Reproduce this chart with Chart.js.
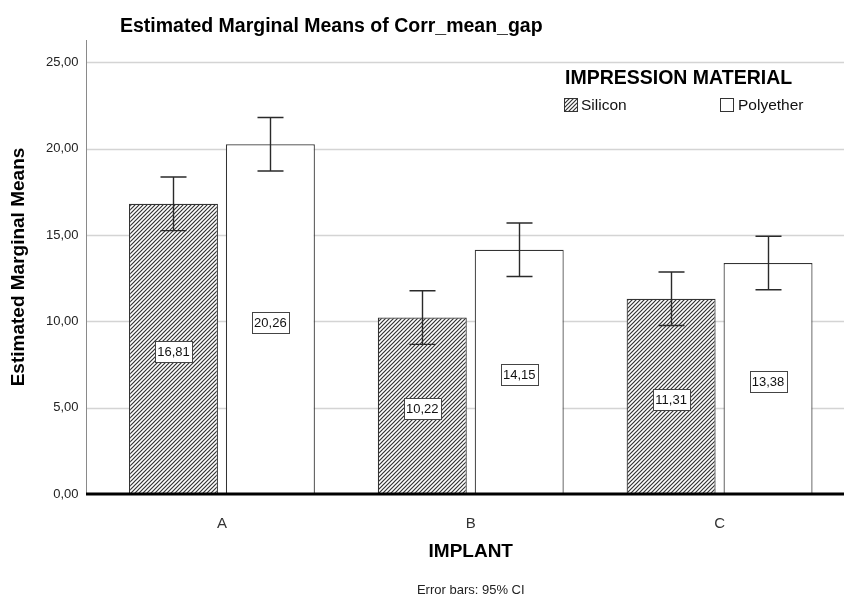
<!DOCTYPE html>
<html>
<head>
<meta charset="utf-8">
<script src="https://cdn.jsdelivr.net/npm/chart.js@4.4.1/dist/chart.umd.min.js"></script>
<style>
  html, body { margin: 0; padding: 0; background: #fff; }
  #wrap { width: 844px; height: 599px; position: relative; }
</style>
</head>
<body>
<div id="wrap"><canvas id="chart"></canvas></div>
<script>
// data
const categories = ['A', 'B', 'C'];
const silicon = [16.81, 10.22, 11.31];
const polyether = [20.26, 14.15, 13.38];
// 95% CI bounds
const siliconLow = [15.26, 8.67, 9.76];
const siliconHigh = [18.36, 11.77, 12.86];
const polyetherLow = [18.71, 12.60, 11.83];
const polyetherHigh = [21.81, 15.70, 14.93];
const yTicks = [0, 5, 10, 15, 20, 25];

const FONT = 'Liberation Sans, Arial, sans-serif';
const fmt = v => v.toFixed(2).replace('.', ',');

function hatch() {
    const c = document.createElement('canvas');
    c.width = 4; c.height = 4;
    const g = c.getContext('2d');
    g.fillStyle = '#fff';
    g.fillRect(0, 0, 4, 4);
    g.strokeStyle = '#333';
    g.lineWidth = 1.2;
    g.beginPath();
    g.moveTo(0, 4); g.lineTo(4, 0);
    g.moveTo(-1, 1); g.lineTo(1, -1);
    g.moveTo(3, 5); g.lineTo(5, 3);
    g.stroke();
    return g.createPattern(c, 'repeat');
}
const hatchFill = hatch();

const AXIS_X = 86;

const decor = {
    id: 'decor',
    beforeDatasetsDraw(chart) {
        const { ctx, chartArea } = chart;
        const y = chart.scales.y;
        ctx.save();
        ctx.strokeStyle = '#d4d4d4';
        ctx.lineWidth = 1.5;
        yTicks.forEach(v => {
            if (v === 0) return;
            const py = Math.round(y.getPixelForValue(v)) + 0.5;
            ctx.beginPath();
            ctx.moveTo(AXIS_X, py);
            ctx.lineTo(chartArea.right, py);
            ctx.stroke();
        });
        ctx.strokeStyle = '#8a8a8a';
        ctx.lineWidth = 1;
        ctx.beginPath();
        ctx.moveTo(AXIS_X + 0.5, chartArea.top);
        ctx.lineTo(AXIS_X + 0.5, chartArea.bottom);
        ctx.stroke();
        ctx.restore();
    },
    afterDatasetsDraw(chart) {
        const { ctx, chartArea } = chart;
        const y = chart.scales.y;
        const lows = [siliconLow, polyetherLow];
        const highs = [siliconHigh, polyetherHigh];
        const vals = [silicon, polyether];
        ctx.save();
        // value labels
        ctx.font = '13px ' + FONT;
        ctx.textAlign = 'center';
        ctx.textBaseline = 'middle';
        [0, 1].forEach(d => {
            chart.getDatasetMeta(d).data.forEach((bar, i) => {
                const cy = (bar.y + bar.base) / 2 + 3;
                const w = 37, h = 21;
                const x0 = Math.round(bar.x - w / 2) + 0.5;
                const y0 = Math.round(cy - h / 2) + 0.5;
                ctx.fillStyle = '#fff';
                ctx.fillRect(x0, y0, w, h);
                ctx.strokeStyle = '#444';
                ctx.lineWidth = 1;
                ctx.strokeRect(x0, y0, w, h);
                ctx.fillStyle = '#111';
                ctx.fillText(fmt(vals[d][i]), bar.x, cy + 1);
            });
        });
        // error bars
        ctx.strokeStyle = '#2a2a2a';
        ctx.lineWidth = 1.4;
        [0, 1].forEach(d => {
            chart.getDatasetMeta(d).data.forEach((bar, i) => {
                const x = Math.round(bar.x) + 0.5;
                const top = y.getPixelForValue(highs[d][i]);
                const bot = y.getPixelForValue(lows[d][i]);
                ctx.beginPath();
                ctx.moveTo(x, top); ctx.lineTo(x, bot);
                ctx.moveTo(x - 13, top); ctx.lineTo(x + 13, top);
                ctx.moveTo(x - 13, bot); ctx.lineTo(x + 13, bot);
                ctx.stroke();
            });
        });
        // zero line
        const z = y.getPixelForValue(0);
        ctx.strokeStyle = '#000';
        ctx.lineWidth = 3;
        ctx.beginPath();
        ctx.moveTo(AXIS_X, z);
        ctx.lineTo(chartArea.right, z);
        ctx.stroke();
        ctx.restore();
    },
    afterDraw(chart) {
        const { ctx, chartArea } = chart;
        ctx.save();
        ctx.fillStyle = '#000';
        ctx.textBaseline = 'alphabetic';
        ctx.textAlign = 'left';
        ctx.font = 'bold 19.5px ' + FONT;
        ctx.fillText('Estimated Marginal Means of Corr_mean_gap', 120, 32);
        // legend
        ctx.font = 'bold 19.5px ' + FONT;
        ctx.fillText('IMPRESSION MATERIAL', 565, 84);
        ctx.strokeStyle = '#333';
        ctx.lineWidth = 1;
        ctx.fillStyle = hatchFill;
        ctx.fillRect(564, 98, 14, 14);
        ctx.strokeRect(564.5, 98.5, 13, 13);
        ctx.fillStyle = '#fff';
        ctx.fillRect(720, 98, 14, 14);
        ctx.strokeRect(720.5, 98.5, 13, 13);
        ctx.fillStyle = '#111';
        ctx.font = '15.5px ' + FONT;
        ctx.textBaseline = 'middle';
        ctx.fillText('Silicon', 581, 106);
        ctx.fillText('Polyether', 738, 106);
        // footer
        ctx.textAlign = 'center';
        ctx.font = '13px ' + FONT;
        ctx.fillStyle = '#222';
        ctx.fillText('Error bars: 95% CI', (chartArea.left + chartArea.right) / 2, 590);
        ctx.restore();
    }
};

new Chart(document.getElementById('chart'), {
    type: 'bar',
    data: {
        labels: categories,
        datasets: [
            {
                label: 'Silicon',
                data: silicon,
                backgroundColor: hatchFill,
                borderColor: '#333',
                borderWidth: 1.2,
                categoryPercentage: 0.779,
                barPercentage: 0.918,
            },
            {
                label: 'Polyether',
                data: polyether,
                backgroundColor: '#fff',
                borderColor: '#333',
                borderWidth: 1.2,
                categoryPercentage: 0.779,
                barPercentage: 0.918,
            },
        ]
    },
    options: {
        responsive: true,
        maintainAspectRatio: false,
        animation: false,
        layout: { padding: { top: 40, left: 0, right: 0, bottom: 0 } },
        plugins: {
            legend: { display: false },
            tooltip: { enabled: false },
        },
        scales: {
            x: {
                grid: { display: false },
                border: { display: false },
                ticks: { color: '#333', font: { family: FONT, size: 15 }, padding: 13 },
                title: {
                    display: true,
                    text: 'IMPLANT',
                    color: '#000',
                    font: { family: FONT, size: 19, weight: 'bold' },
                    padding: { top: 0, bottom: 36 },
                },
                afterFit: s => { s.height = 105; },
            },
            y: {
                min: 0,
                max: 26.3,
                grid: { display: false },
                border: { display: false },
                afterBuildTicks: s => { s.ticks = yTicks.map(v => ({ value: v })); },
                ticks: {
                    color: '#222',
                    font: { family: FONT, size: 13 },
                    padding: 11,
                    callback: v => fmt(v),
                },
                title: {
                    display: true,
                    text: 'Estimated Marginal Means',
                    color: '#000',
                    font: { family: FONT, size: 19, weight: 'bold' },
                    padding: { top: 7, bottom: 0 },
                },
                afterFit: s => { s.width = 97.5; },
            },
        },
    },
    plugins: [decor],
});
</script>
</body>
</html>
